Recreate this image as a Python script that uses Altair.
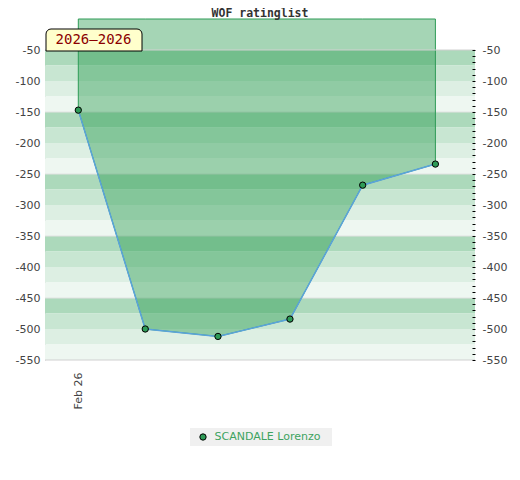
import altair as alt
import pandas as pd

# ---- data ----
title_text = "WOF ratinglist"
season_label = "2026–2026"
player = "SCANDALE Lorenzo"
x_pos = [0.0, 0.93, 1.94, 2.94, 3.95, 4.96]
ratings = [-147, -500, -512, -484, -268, -234]
x_tick_values = [0]
x_tick_label = "Feb 26"
y_label_values = [-50, -100, -150, -200, -250, -300, -350, -400, -450, -500, -550]
y_minor_values = list(range(-550, -49, 10))
band_tops = list(range(-50, -550, -25))
band_shades = ["#acd9bb", "#c8e6d2", "#ddefe3", "#eef7f1"]
group_lines = [-150, -250, -350, -450]
border_lines = [-50, -550]

W, H = 430, 310

df = pd.DataFrame({"x": x_pos, "rating": ratings, "player": [player] * len(x_pos)})
bands = pd.DataFrame({
    "top": band_tops,
    "bottom": [t - 25 for t in band_tops],
    "col": [band_shades[i % 4] for i in range(len(band_tops))],
})

yscale = alt.Scale(domain=[-550, -50], nice=False, zero=False)
xscale = alt.Scale(domain=[-0.4625, 5.51], nice=False, zero=False)

x_enc = alt.X(
    "x:Q", scale=xscale,
    axis=alt.Axis(values=x_tick_values, labelExpr=f"'{x_tick_label}'", labelAngle=-90,
                  ticks=False, domain=False, grid=False, labelPadding=12,
                  labelColor="#444", labelFontSize=11, title=None),
)

stripes = alt.Chart(bands).mark_rect().encode(
    x=alt.value(0), x2=alt.value(W),
    y=alt.Y("top:Q", scale=yscale,
            axis=alt.Axis(orient="left", values=y_label_values, labelExpr="'' + datum.value",
                          ticks=False, domain=True, domainColor="#d0d0d0", grid=False,
                          labelColor="#444", labelFontSize=11, labelPadding=5, title=None)),
    y2="bottom:Q",
    color=alt.Color("col:N", scale=None),
)

groups = alt.Chart(pd.DataFrame({"v": group_lines})).mark_rule(color="#e2e2e2", strokeWidth=1).encode(
    x=alt.value(0), x2=alt.value(W),
    y=alt.Y("v:Q", scale=yscale,
            axis=alt.Axis(orient="right", values=y_minor_values,
                          labelExpr="datum.value % 50 == 0 ? '' + datum.value : ''",
                          ticks=True, tickSize=3, tickColor="black", tickWidth=1,
                          domain=False, offset=-3, labelPadding=7, grid=False, zindex=1,
                          labelOverlap=False, labelColor="#444", labelFontSize=11, title=None)),
)

area = alt.Chart(df).mark_area(fill="#1e9646", fillOpacity=0.4, stroke="#2e9b57",
                               strokeWidth=1).encode(
    x=x_enc,
    y=alt.Y("rating:Q", scale=yscale, axis=None),
    y2=alt.datum(0),
)

borders = alt.Chart(pd.DataFrame({"v": border_lines})).mark_rule(color="#d0d0d0", strokeWidth=1).encode(
    x=alt.value(0), x2=alt.value(W),
    y=alt.Y("v:Q", scale=yscale, axis=None),
)

line = alt.Chart(df).mark_line(color="#5ba3dc", strokeWidth=1.5).encode(
    x=x_enc,
    y=alt.Y("rating:Q", scale=yscale, axis=None),
)

legend_bg = alt.Chart(pd.DataFrame({"a": [0]})).mark_rect(color="#f0f0f0").encode(
    x=alt.value(145), x2=alt.value(287), y=alt.value(378), y2=alt.value(396)
)

points = alt.Chart(df).mark_point(filled=True, size=40, stroke="black", strokeWidth=1,
                                  opacity=1).encode(
    x=x_enc,
    y=alt.Y("rating:Q", scale=yscale, axis=None),
    color=alt.Color("player:N", scale=alt.Scale(domain=[player], range=["#2e9b57"]),
                    legend=alt.Legend(orient="none", legendX=152.5, legendY=381.5, title=None,
                                      labelColor="#3da35f", labelFontSize=11,
                                      symbolStrokeColor="black", symbolStrokeWidth=1,
                                      symbolSize=40, symbolType="circle", padding=0,
                                      labelOffset=6)),
)

season_box = alt.Chart(pd.DataFrame({"t": [season_label]})).mark_rect(
    fill="#ffffcc", stroke="black", strokeWidth=1,
    cornerRadiusTopLeft=5, cornerRadiusTopRight=5,
).encode(x=alt.value(1), x2=alt.value(97), y=alt.value(-21), y2=alt.value(1))

season_text = alt.Chart(pd.DataFrame({"t": [season_label]})).mark_text(
    font="DejaVu Sans Mono", fontSize=14, color="#8b0000", align="center", baseline="middle"
).encode(x=alt.value(48.5), y=alt.value(-10), text="t:N")

title = alt.Chart(pd.DataFrame({"t": [title_text]})).mark_text(
    font="DejaVu Sans Mono", fontWeight="bold", fontSize=11.5, color="#333",
    align="center", baseline="middle"
).encode(x=alt.value(215), y=alt.value(-36), text="t:N")

chart = alt.layer(
    stripes, groups, area, borders, line, legend_bg, points, season_box, season_text, title
).resolve_axis(y="independent").properties(
    width=W, height=H,
    autosize=alt.AutoSizeParams(type="none"),
    padding={"left": 37, "top": 42, "right": 37, "bottom": 112},
).configure_view(stroke=None).configure_axis(labelFont="DejaVu Sans").configure_legend(
    labelFont="DejaVu Sans"
)

chart.save("out.html", embed_options={"renderer": "svg", "actions": False})
